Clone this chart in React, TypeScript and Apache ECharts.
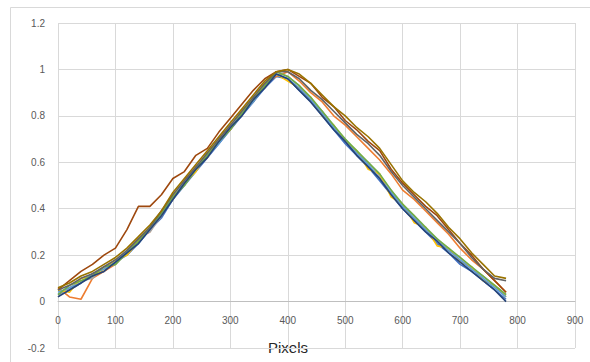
import React, { useEffect, useRef } from "react";
import * as echarts from "echarts";

const xs = [0, 20, 40, 60, 80, 100, 120, 140, 160, 180, 200, 220, 240, 260, 280, 300, 320, 340, 360, 380,
  400, 420, 440, 460, 480, 500, 520, 540, 560, 580, 600, 620, 640, 660, 680, 700, 720, 740, 760, 780];

const s1 = [0.03, 0.05, 0.08, 0.12, 0.13, 0.17, 0.20, 0.25, 0.31, 0.36, 0.44, 0.50, 0.56, 0.62, 0.68, 0.74, 0.80, 0.86, 0.92, 0.97,
  0.96, 0.91, 0.86, 0.80, 0.74, 0.68, 0.63, 0.58, 0.52, 0.46, 0.40, 0.35, 0.30, 0.25, 0.21, 0.16, 0.13, 0.09, 0.05, 0.01];
const s2 = [0.06, 0.02, 0.01, 0.10, 0.13, 0.16, 0.22, 0.27, 0.30, 0.39, 0.44, 0.52, 0.58, 0.62, 0.70, 0.74, 0.82, 0.86, 0.94, 0.97,
  0.99, 0.95, 0.90, 0.86, 0.80, 0.76, 0.71, 0.66, 0.61, 0.55, 0.48, 0.44, 0.39, 0.34, 0.29, 0.23, 0.18, 0.14, 0.09, 0.04];
const s3 = [0.02, 0.06, 0.09, 0.10, 0.15, 0.16, 0.21, 0.27, 0.30, 0.37, 0.46, 0.50, 0.58, 0.62, 0.70, 0.76, 0.80, 0.88, 0.92, 0.99,
  0.97, 0.93, 0.86, 0.82, 0.75, 0.70, 0.64, 0.60, 0.54, 0.48, 0.41, 0.37, 0.31, 0.27, 0.22, 0.19, 0.14, 0.11, 0.07, 0.03];
const s4 = [0.05, 0.04, 0.10, 0.11, 0.14, 0.18, 0.20, 0.26, 0.32, 0.37, 0.45, 0.51, 0.56, 0.64, 0.69, 0.75, 0.82, 0.87, 0.94, 0.98,
  0.95, 0.92, 0.88, 0.80, 0.76, 0.69, 0.65, 0.57, 0.55, 0.45, 0.42, 0.34, 0.32, 0.24, 0.23, 0.17, 0.15, 0.09, 0.07, 0.02];
const s5 = [0.04, 0.06, 0.08, 0.12, 0.14, 0.17, 0.22, 0.25, 0.31, 0.38, 0.44, 0.52, 0.57, 0.63, 0.68, 0.75, 0.81, 0.86, 0.93, 0.98,
  0.96, 0.92, 0.87, 0.81, 0.75, 0.69, 0.64, 0.59, 0.53, 0.47, 0.41, 0.36, 0.31, 0.26, 0.22, 0.18, 0.14, 0.10, 0.06, 0.02];
const s6 = [0.03, 0.07, 0.09, 0.11, 0.15, 0.16, 0.21, 0.26, 0.32, 0.38, 0.45, 0.50, 0.57, 0.63, 0.69, 0.74, 0.81, 0.87, 0.93, 0.99,
  0.97, 0.93, 0.88, 0.82, 0.76, 0.70, 0.65, 0.60, 0.55, 0.48, 0.42, 0.37, 0.32, 0.27, 0.23, 0.19, 0.15, 0.11, 0.07, 0.03];
const s7 = [0.02, 0.05, 0.08, 0.11, 0.13, 0.17, 0.21, 0.25, 0.31, 0.37, 0.44, 0.51, 0.57, 0.62, 0.69, 0.75, 0.80, 0.87, 0.92, 0.98,
  0.96, 0.91, 0.86, 0.80, 0.74, 0.69, 0.63, 0.58, 0.53, 0.46, 0.40, 0.35, 0.30, 0.26, 0.21, 0.17, 0.13, 0.09, 0.05, 0.00];
const s8 = [0.05, 0.09, 0.13, 0.16, 0.20, 0.23, 0.31, 0.41, 0.41, 0.46, 0.53, 0.56, 0.63, 0.66, 0.73, 0.79, 0.85, 0.91, 0.96, 0.99,
  1.00, 0.97, 0.94, 0.88, 0.84, 0.78, 0.74, 0.69, 0.65, 0.57, 0.51, 0.46, 0.41, 0.37, 0.31, 0.25, 0.20, 0.14, 0.09, 0.04];
const s9 = [0.05, 0.07, 0.10, 0.12, 0.15, 0.18, 0.22, 0.27, 0.32, 0.39, 0.46, 0.52, 0.58, 0.64, 0.70, 0.76, 0.82, 0.88, 0.94, 0.99,
  0.99, 0.96, 0.91, 0.87, 0.82, 0.77, 0.72, 0.68, 0.63, 0.56, 0.50, 0.45, 0.40, 0.35, 0.30, 0.25, 0.19, 0.14, 0.10, 0.09];
const s10 = [0.06, 0.08, 0.11, 0.13, 0.16, 0.19, 0.23, 0.28, 0.33, 0.39, 0.47, 0.53, 0.59, 0.65, 0.71, 0.77, 0.83, 0.89, 0.95, 0.99,
  1.00, 0.98, 0.94, 0.89, 0.84, 0.80, 0.75, 0.71, 0.66, 0.59, 0.52, 0.47, 0.43, 0.38, 0.32, 0.27, 0.21, 0.16, 0.11, 0.10];

const seriesValues = [s1, s2, s3, s4, s5, s6, s7, s8, s9, s10];
const seriesColors = ["#4472C4", "#ED7D31", "#A5A5A5", "#FFC000", "#5B9BD5", "#70AD47", "#264478", "#9E480E", "#636363", "#997300"];
const xTicks = [0, 100, 200, 300, 400, 500, 600, 700, 800, 900];
const yTicks = [-0.2, 0, 0.2, 0.4, 0.6, 0.8, 1, 1.2];
const xTitle = "Pixels";

const GRID_TOP = 23;
const GRID_BOTTOM = 14;
const CHART_H = 362;

export default function App() {
  const ref = useRef<HTMLDivElement>(null);
  useEffect(() => {
    if (!ref.current) return;
    const chart = echarts.init(ref.current, undefined, { renderer: "svg" });
    const plotH = CHART_H - GRID_TOP - GRID_BOTTOM;
    const yMin = yTicks[0];
    const yMax = yTicks[yTicks.length - 1];
    const zeroOffset = -((0 - yMin) / (yMax - yMin)) * plotH;
    chart.setOption({
      animation: false,
      backgroundColor: "#ffffff",
      grid: {
        left: 58,
        right: 15,
        top: GRID_TOP,
        bottom: GRID_BOTTOM,
        containLabel: false,
        outerBoundsMode: "none",
      },
      xAxis: {
        type: "value",
        min: xTicks[0],
        max: xTicks[xTicks.length - 1],
        interval: 100,
        offset: zeroOffset,
        axisLine: { show: true, onZero: false, lineStyle: { color: "#bfbfbf", width: 1 } },
        axisTick: { show: false },
        axisLabel: { color: "#595959", fontSize: 10, fontFamily: "Liberation Sans", margin: 14 },
        splitLine: { show: true, lineStyle: { color: "#d9d9d9", width: 1 } },
      },
      yAxis: {
        type: "value",
        min: yMin,
        max: yMax,
        interval: 0.2,
        axisLine: { show: false },
        axisTick: { show: false },
        axisLabel: {
          color: "#595959",
          fontSize: 10,
          fontFamily: "Liberation Sans",
          margin: 13,
          formatter: (v: number) => String(Math.round(v * 10) / 10),
        },
        splitLine: { show: true, lineStyle: { color: "#d9d9d9", width: 1 } },
      },
      graphic: [
        {
          type: "rect",
          z: -10,
          silent: true,
          shape: { x: 10.5, y: 7.5, width: 600, height: 400 },
          style: { fill: "none", stroke: "#d9d9d9", lineWidth: 1 },
        },
        {
          type: "text",
          x: 288,
          y: 340,
          style: {
            text: xTitle,
            fill: "#262626",
            font: "15px 'Liberation Sans'",
            align: "center",
            verticalAlign: "top",
          },
        },
      ],
      series: seriesValues.map((ys, i) => ({
        type: "line",
        data: xs.map((x, j) => [x, ys[j]]),
        showSymbol: false,
        symbol: "none",
        lineStyle: { color: seriesColors[i], width: 1.6 },
        itemStyle: { color: seriesColors[i] },
      })),
    });
    return () => chart.dispose();
  }, []);
  return (
    <div
      ref={ref}
      style={{ position: "fixed", left: 0, top: 0, width: 590, height: 362 }}
    />
  );
}
